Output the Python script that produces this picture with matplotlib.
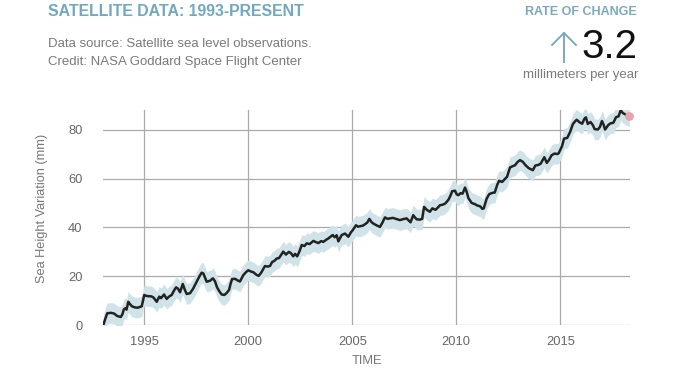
import numpy as np
import matplotlib
matplotlib.use("Agg")
import matplotlib.pyplot as plt
from matplotlib.lines import Line2D

plt.rcParams['font.family'] = ['Liberation Sans', 'DejaVu Sans']

# satellite sea level, mm
years = [1993.03, 1993.12, 1993.22, 1993.40, 1993.55, 1993.70, 1993.87, 1993.95,
         1994.02, 1994.10, 1994.15, 1994.23, 1994.30, 1994.40, 1994.55, 1994.70,
         1994.88, 1994.95, 1995.00, 1995.10, 1995.20, 1995.35, 1995.45, 1995.60,
         1995.72, 1995.80, 1995.84, 1995.95, 1996.08, 1996.20, 1996.32, 1996.45,
         1996.53, 1996.62, 1996.72, 1996.85, 1996.95, 1997.04, 1997.20, 1997.35,
         1997.52, 1997.65, 1997.76, 1997.84, 1997.92, 1998.00, 1998.16, 1998.30,
         1998.40, 1998.50, 1998.60, 1998.72, 1998.85, 1998.96, 1999.08, 1999.15,
         1999.22, 1999.36, 1999.50, 1999.60, 1999.76, 1999.90, 2000.00, 2000.12,
         2000.24, 2000.40, 2000.50, 2000.62, 2000.80, 2000.95, 2001.05, 2001.15,
         2001.25, 2001.37, 2001.48, 2001.57, 2001.68, 2001.81, 2001.95, 2002.05,
         2002.16, 2002.25, 2002.35, 2002.45, 2002.57, 2002.70, 2002.81, 2002.95,
         2003.13, 2003.25, 2003.37, 2003.50, 2003.61, 2003.75, 2003.85, 2004.00,
         2004.06, 2004.15, 2004.25, 2004.33, 2004.49, 2004.65, 2004.81, 2004.92,
         2005.02, 2005.18, 2005.27, 2005.37, 2005.50, 2005.61, 2005.72, 2005.82,
         2005.92, 2006.01, 2006.18, 2006.33, 2006.45, 2006.57, 2006.70, 2006.81,
         2006.95, 2007.10, 2007.29, 2007.45, 2007.61, 2007.72, 2007.80, 2007.93,
         2008.02, 2008.10, 2008.25, 2008.36, 2008.45, 2008.58, 2008.73, 2008.85,
         2009.00, 2009.12, 2009.22, 2009.35, 2009.47, 2009.62, 2009.72, 2009.80,
         2009.94, 2010.02, 2010.10, 2010.20, 2010.30, 2010.42, 2010.50, 2010.58,
         2010.74, 2010.90, 2011.00, 2011.15, 2011.25, 2011.32, 2011.46, 2011.58,
         2011.72, 2011.85, 2011.97, 2012.06, 2012.20, 2012.30, 2012.44, 2012.58,
         2012.70, 2012.82, 2012.95, 2013.06, 2013.20, 2013.32, 2013.47, 2013.58,
         2013.68, 2013.80, 2013.92, 2014.05, 2014.23, 2014.35, 2014.45, 2014.58,
         2014.72, 2014.85, 2014.92, 2015.08, 2015.18, 2015.33, 2015.47, 2015.60,
         2015.72, 2015.79, 2015.92, 2016.05, 2016.15, 2016.23, 2016.32, 2016.45,
         2016.55, 2016.65, 2016.80, 2016.90, 2017.00, 2017.08, 2017.15, 2017.30,
         2017.40, 2017.55, 2017.68, 2017.80, 2017.90, 2018.00, 2018.12, 2018.22,
         2018.32]
height = [0.0, 2.5, 4.9, 5.1, 4.8, 3.8, 3.4, 4.5,
          6.5, 7.0, 6.4, 9.6, 8.8, 7.8, 7.3, 7.2,
          7.8, 10.5, 12.4, 12.0, 11.9, 11.8, 11.3, 9.6,
          11.7, 11.1, 11.4, 12.6, 10.8, 11.8, 12.4, 14.5,
          15.5, 15.0, 13.5, 16.9, 14.5, 12.8, 13.1, 15.0,
          17.8, 20.0, 21.5, 21.2, 19.5, 17.8, 18.2, 19.2,
          18.0, 15.5, 14.0, 12.6, 12.4, 13.2, 14.5, 17.0,
          18.9, 19.0, 18.3, 17.9, 20.5, 21.8, 22.5, 22.0,
          21.7, 20.6, 20.2, 21.5, 24.2, 24.0, 24.3, 25.9,
          26.3, 27.3, 27.5, 28.7, 30.1, 28.9, 30.0, 29.5,
          28.2, 29.2, 28.2, 30.0, 32.8, 32.4, 33.5, 33.2,
          34.5, 34.0, 33.6, 34.4, 34.1, 35.0, 35.5, 36.5,
          36.9, 36.0, 36.8, 34.3, 36.9, 37.5, 36.2, 37.8,
          38.9, 40.9, 40.3, 40.5, 40.7, 41.3, 42.0, 43.5,
          42.2, 41.6, 40.8, 40.2, 42.0, 44.1, 43.5, 43.7,
          43.9, 43.5, 43.0, 43.4, 43.7, 42.8, 42.1, 45.0,
          44.0, 43.3, 43.2, 43.5, 48.4, 47.2, 46.4, 47.8,
          47.2, 48.2, 49.1, 49.3, 49.8, 51.3, 53.0, 54.8,
          55.0, 53.5, 53.2, 54.0, 53.8, 56.3, 54.5, 52.0,
          50.0, 49.5, 49.0, 48.6, 47.6, 47.8, 51.8, 53.6,
          54.1, 54.3, 57.5, 59.1, 58.6, 59.5, 60.7, 64.5,
          65.0, 65.4, 66.8, 67.5, 66.8, 65.5, 64.3, 63.8,
          63.4, 65.3, 65.5, 66.0, 68.7, 66.4, 67.5, 69.5,
          70.2, 70.0, 70.3, 73.2, 76.3, 76.6, 79.0, 82.2,
          83.5, 84.0, 83.0, 82.4, 84.3, 85.0, 82.3, 83.1,
          82.0, 80.2, 80.0, 81.0, 83.5, 82.0, 80.0, 81.8,
          82.5, 82.8, 85.1, 85.4, 87.9, 86.8, 86.2, 85.8,
          85.4]
uncertainty = 4.2  # half-width of the shaded band, mm

x_ticks = [1995, 2000, 2005, 2010, 2015]
y_ticks = [0, 20, 40, 60, 80]
rate = "3.2"

yr = np.array(years)
h = np.array(height)

fig = plt.figure(figsize=(6.95, 3.71), dpi=100)
ax = fig.add_axes([0.1486, 0.1232, 0.7579, 0.5803])

ax.fill_between(yr, h - uncertainty, h + uncertainty, color='#cfe3e9', lw=0, zorder=1)
ax.plot(yr, h, color='#222222', lw=1.8, zorder=3, solid_joinstyle='round')
ax.scatter([yr[-1]], [h[-1]], s=40, color='#e8a3ab', zorder=4, clip_on=False, lw=0)

ax.set_xlim(1993.03, 2018.35)
ax.set_ylim(0, 88)
ax.set_xticks(x_ticks)
ax.set_yticks(y_ticks)
ax.grid(True, color='#aaaaaa', lw=0.9, zorder=0)
ax.set_axisbelow(True)
for s in ax.spines.values():
    s.set_visible(False)
ax.tick_params(length=0, labelsize=9.3, labelcolor='#666666')
ax.tick_params(axis='y', pad=15)
ax.tick_params(axis='x', pad=8)
ax.set_xlabel('TIME', fontsize=9.3, color='#777777', labelpad=5)

fig.text(42 / 695, 1 - 208 / 371, 'Sea Height Variation (mm)', rotation=90,
         ha='center', va='center', fontsize=9.2, color='#777777')

fig.text(48 / 695, 1 - 12 / 371, 'SATELLITE DATA: 1993-PRESENT', ha='left', va='center',
         fontsize=11.4, fontweight='bold', color='#72a8bd')
fig.text(48 / 695, 1 - 44 / 371, 'Data source: Satellite sea level observations.',
         ha='left', va='center', fontsize=9.5, color='#7a7a7a')
fig.text(48 / 695, 1 - 62 / 371, 'Credit: NASA Goddard Space Flight Center',
         ha='left', va='center', fontsize=9.5, color='#7a7a7a')

fig.text(637 / 695, 1 - 12 / 371, 'RATE OF CHANGE', ha='right', va='center',
         fontsize=9, fontweight='bold', color='#7aaabd')
fig.text(637 / 695, 1 - 47 / 371, rate, ha='right', va='center',
         fontsize=29, color='#111111')
fig.text(638 / 695, 1 - 75 / 371, 'millimeters per year', ha='right', va='center',
         fontsize=9.5, color='#7a7a7a')

# arrow drawn in pixel space
def fx(px):
    return px / 695

def fy(py):
    return 1 - py / 371

arrow_col = '#7aaabd'
fig.add_artist(Line2D([fx(564), fx(564)], [fy(62), fy(33)], color=arrow_col, lw=1.4))
fig.add_artist(Line2D([fx(552), fx(564), fx(576)], [fy(45), fy(33), fy(45)],
                      color=arrow_col, lw=1.4))

fig.savefig('out.png', dpi=100)
